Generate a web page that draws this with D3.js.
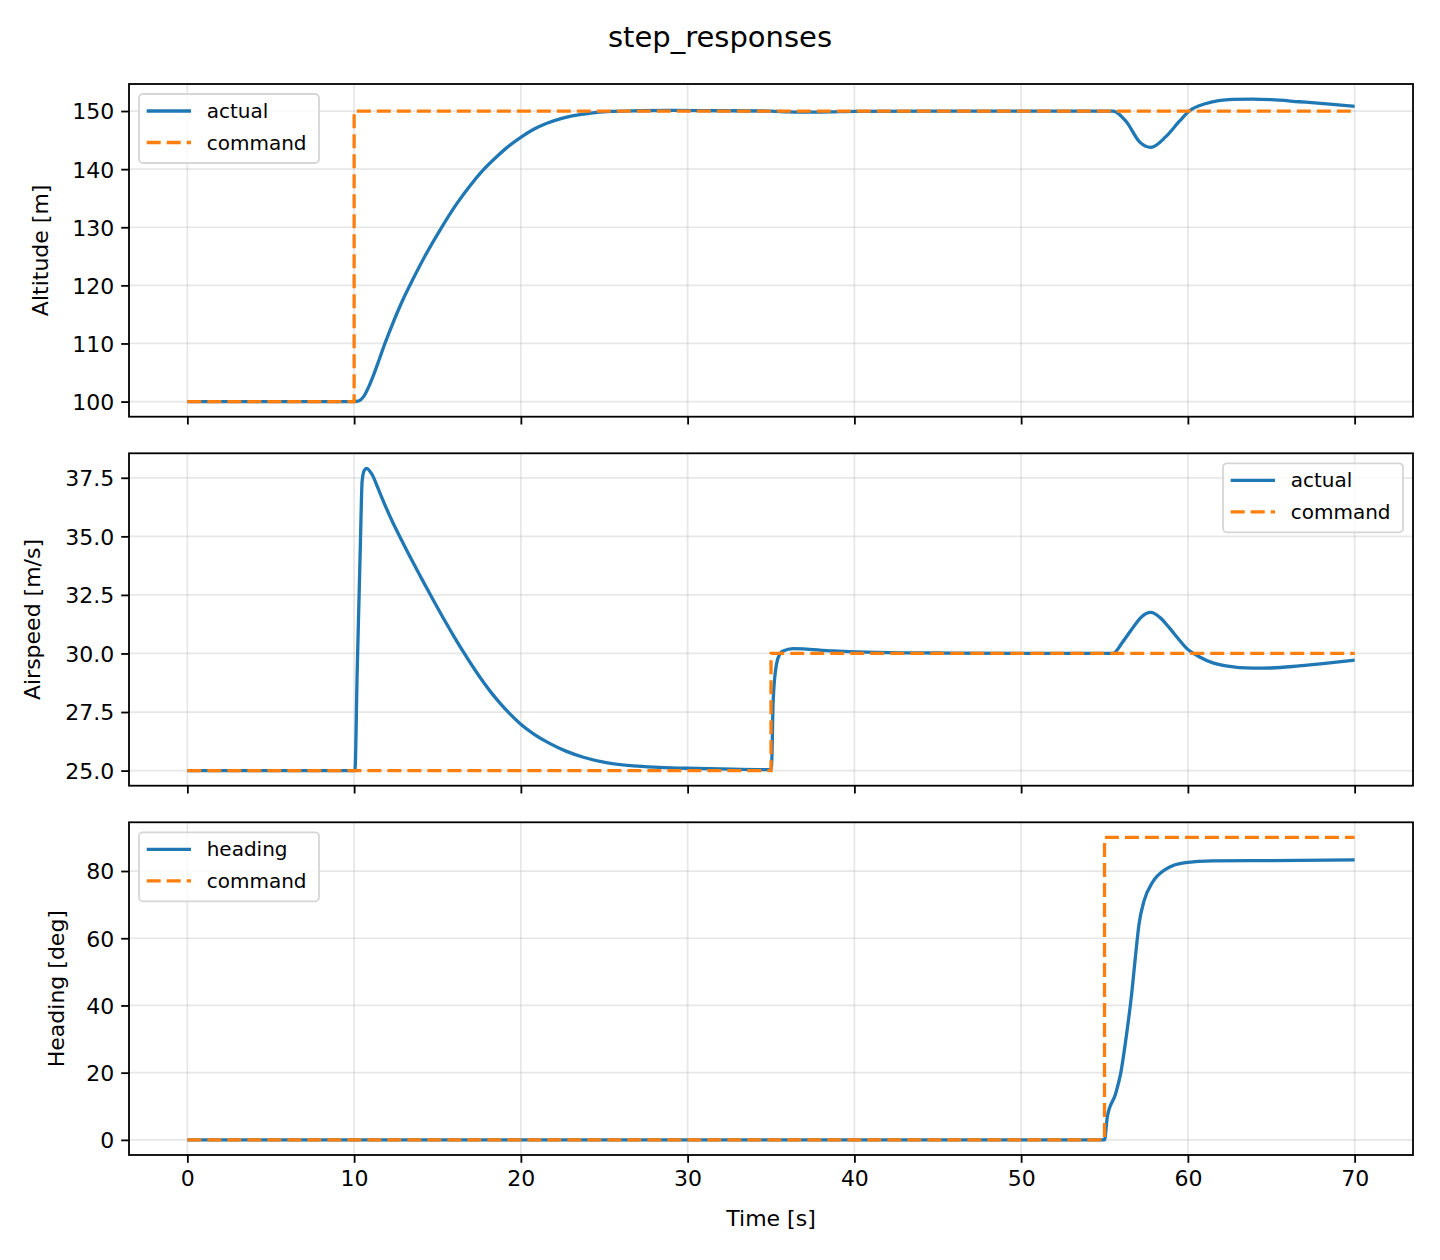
<!DOCTYPE html>
<html>
<head>
<meta charset="utf-8">
<script src="https://cdn.jsdelivr.net/npm/d3@7"></script>
<style>
  body { margin: 0; background: #fff; }
  text { font-family: "DejaVu Sans", sans-serif; fill: #000; }
</style>
</head>
<body>
<script>
// values, [time s, value]
var xTicks = [0, 10, 20, 30, 40, 50, 60, 70];

var altitudeActual = [
  [0, 100], [10, 100], [10.3, 100.15], [10.58, 100.9], [10.9, 102.7], [11.17, 104.6],
  [11.5, 107.2], [11.77, 109.4], [12.2, 112.6], [12.57, 115.2], [13.0, 118.0],
  [13.57, 121.3], [14.3, 125.3], [15.17, 129.6], [16.17, 134.1], [17.0, 137.3],
  [17.76, 139.9], [18.5, 142.0], [19.16, 143.7], [20.06, 145.6], [20.8, 146.9],
  [21.56, 147.9], [22.4, 148.7], [23.15, 149.2], [24.2, 149.65], [25.15, 149.9],
  [27, 150.05], [29, 150.1], [32, 150.05], [35, 150], [36, 149.85], [37, 149.8],
  [38.5, 149.85], [40, 149.95], [45, 150], [50, 150], [55.5, 150], [56.3, 148.2],
  [57.1, 144.7], [57.78, 143.75], [58.68, 145.6], [59.48, 148.2], [60.08, 150],
  [61.1, 151.3], [62.67, 152], [63.9, 152.05], [65, 151.95], [66.67, 151.6],
  [68.5, 151.2], [70, 150.8]
];
var altitudeCommand = [[0, 100], [10, 100], [10, 150], [70, 150]];
var altitudeTicks = [100, 110, 120, 130, 140, 150];

var airspeedActual = [
  [0, 25], [10.05, 25], [10.18, 29.1], [10.38, 34.8], [10.48, 37.35], [10.6, 37.8],
  [10.74, 37.9], [10.9, 37.82], [11.08, 37.64], [11.4, 37.11], [11.8, 36.42],
  [12.3, 35.62], [12.77, 34.94], [13.3, 34.2], [14.0, 33.26], [14.76, 32.26],
  [15.5, 31.32], [16.0, 30.71], [16.76, 29.83], [17.3, 29.24], [17.76, 28.77],
  [18.2, 28.35], [18.76, 27.87], [19.36, 27.41], [19.96, 27.0], [20.8, 26.55],
  [21.75, 26.15], [22.7, 25.83], [23.75, 25.57], [25.2, 25.33], [26.74, 25.2],
  [28.3, 25.14], [29.94, 25.1], [32, 25.07], [34.9, 25.04], [35.03, 25.1],
  [35.13, 28], [35.33, 29.55], [35.55, 30.0], [35.73, 30.11], [36.32, 30.21],
  [38.72, 30.11], [40.7, 30.06], [45, 30.02], [50, 30], [55.5, 30], [56.1, 30.5],
  [56.7, 31.1], [57.2, 31.55], [57.78, 31.75], [58.3, 31.55], [58.88, 31.1],
  [59.4, 30.65], [59.88, 30.25], [60.68, 29.86], [61.5, 29.6], [62.28, 29.47],
  [63.87, 29.37], [65, 29.38], [66.67, 29.47], [68.5, 29.6], [70, 29.72]
];
var airspeedCommand = [[0, 25], [35, 25], [35, 30], [70, 30]];
var airspeedTicks = [25, 27.5, 30, 32.5, 35, 37.5];

var headingActual = [
  [0, 0], [55, 0], [55.17, 6.9], [55.67, 13.8], [55.97, 19.8], [56.3, 30.6],
  [56.63, 43.5], [56.87, 55.3], [57.07, 64.2], [57.37, 71.1], [57.86, 76.5],
  [58.66, 80.5], [59.86, 82.5], [61.46, 83.0], [65, 83.1], [70, 83.3]
];
var headingCommand = [[0, 0], [55, 0], [55, 90], [70, 90]];
var headingTicks = [0, 20, 40, 60, 80];

var blue = "#1f77b4", orange = "#ff7f0e";
var W = 1440, H = 1260;
var left = 129, right = 1413;

var svg = d3.select("body").append("svg")
  .attr("width", W)
  .attr("height", H);

svg.append("text")
  .attr("x", 720)
  .attr("y", 47)
  .attr("text-anchor", "middle")
  .attr("font-size", "29px")
  .text("step_responses");

var x = d3.scaleLinear()
  .domain([-3.5, 73.5])
  .range([left, right]);

var panels = [
  { top: 84, bottom: 416.7, actual: altitudeActual, command: altitudeCommand,
    ticks: altitudeTicks, fmt: d3.format("d"), label: "Altitude [m]", labelX: 40,
    names: ["actual", "command"], legendRight: false, xLabels: false },
  { top: 453.3, bottom: 785.7, actual: airspeedActual, command: airspeedCommand,
    ticks: airspeedTicks, fmt: d3.format(".1f"), label: "Airspeed [m/s]", labelX: 32,
    names: ["actual", "command"], legendRight: true, xLabels: false },
  { top: 822.3, bottom: 1155, actual: headingActual, command: headingCommand,
    ticks: headingTicks, fmt: d3.format("d"), label: "Heading [deg]", labelX: 56,
    names: ["heading", "command"], legendRight: false, xLabels: true }
];

panels.forEach(function(p) {
  var all = p.actual.concat(p.command).map(function(d) { return d[1]; });
  var ext = d3.extent(all);
  var pad = (ext[1] - ext[0]) * 0.05;
  var y = d3.scaleLinear()
    .domain([ext[0] - pad, ext[1] + pad])
    .range([p.bottom, p.top]);

  var g = svg.append("g");

  // grid
  g.selectAll(".gx").data(xTicks).enter().append("line")
    .attr("x1", function(d) { return x(d); })
    .attr("x2", function(d) { return x(d); })
    .attr("y1", p.top).attr("y2", p.bottom)
    .attr("stroke", "#b0b0b0").attr("stroke-opacity", 0.3).attr("stroke-width", 1.7);
  g.selectAll(".gy").data(p.ticks).enter().append("line")
    .attr("x1", left).attr("x2", right)
    .attr("y1", function(d) { return y(d); })
    .attr("y2", function(d) { return y(d); })
    .attr("stroke", "#b0b0b0").attr("stroke-opacity", 0.3).attr("stroke-width", 1.7);

  var actualLine = d3.line()
    .x(function(d) { return x(d[0]); })
    .y(function(d) { return y(d[1]); })
    .curve(d3.curveMonotoneX);
  var commandLine = d3.line()
    .x(function(d) { return x(d[0]); })
    .y(function(d) { return y(d[1]); });

  g.append("path")
    .attr("d", actualLine(p.actual))
    .attr("fill", "none")
    .attr("stroke", blue)
    .attr("stroke-width", 3.3);
  g.append("path")
    .attr("d", commandLine(p.command))
    .attr("fill", "none")
    .attr("stroke", orange)
    .attr("stroke-width", 3.3)
    .attr("stroke-dasharray", "14,6");

  // axes
  var yAxis = d3.axisLeft(y)
    .tickValues(p.ticks)
    .tickFormat(p.fmt)
    .tickSize(7.8)
    .tickPadding(7);
  var yg = g.append("g")
    .attr("transform", "translate(" + left + ",0)")
    .call(yAxis);

  var xAxis = d3.axisBottom(x)
    .tickValues(xTicks)
    .tickFormat(p.xLabels ? d3.format("d") : function() { return ""; })
    .tickSize(7.8)
    .tickPadding(7);
  var xg = g.append("g")
    .attr("transform", "translate(0," + p.bottom + ")")
    .call(xAxis);

  [yg, xg].forEach(function(a) {
    a.select(".domain").remove();
    a.selectAll(".tick line").attr("stroke", "#000").attr("stroke-width", 1.8);
    a.selectAll(".tick text")
      .attr("font-size", "22px")
      .attr("font-family", "DejaVu Sans")
      .attr("fill", "#000");
  });
  yg.selectAll(".tick text").attr("dy", "0.36em");
  xg.selectAll(".tick text").attr("dy", "0.74em");

  // frame
  g.append("rect")
    .attr("x", left).attr("y", p.top)
    .attr("width", right - left).attr("height", p.bottom - p.top)
    .attr("fill", "none")
    .attr("stroke", "#000")
    .attr("stroke-width", 1.8);

  // y label
  g.append("text")
    .attr("transform", "translate(" + p.labelX + "," + ((p.top + p.bottom) / 2) + ") rotate(-90)")
    .attr("text-anchor", "middle")
    .attr("dy", "0.36em")
    .attr("font-size", "22px")
    .text(p.label);

  // legend
  var lw = 180, lh = 69;
  var lx = p.legendRight ? right - 10 - lw : left + 10;
  var ly = p.top + 10;
  var leg = g.append("g").attr("transform", "translate(" + lx + "," + ly + ")");
  leg.append("rect")
    .attr("width", lw).attr("height", lh)
    .attr("rx", 4).attr("ry", 4)
    .attr("fill", "#fff").attr("fill-opacity", 0.8)
    .attr("stroke", "#d6d6d6").attr("stroke-width", 1.8);
  var rows = [
    { name: p.names[0], color: blue, dash: null },
    { name: p.names[1], color: orange, dash: "14,6" }
  ];
  rows.forEach(function(r, i) {
    var ry = 17 + i * 31.5;
    leg.append("line")
      .attr("x1", 7.7).attr("x2", 52)
      .attr("y1", ry).attr("y2", ry)
      .attr("stroke", r.color)
      .attr("stroke-width", 3.3)
      .attr("stroke-dasharray", r.dash);
    leg.append("text")
      .attr("x", 67.7).attr("y", ry)
      .attr("dy", "0.36em")
      .attr("font-size", "20px")
      .text(r.name);
  });
});

svg.append("text")
  .attr("x", (left + right) / 2)
  .attr("y", 1226)
  .attr("text-anchor", "middle")
  .attr("font-size", "22px")
  .text("Time [s]");
</script>
</body>
</html>
